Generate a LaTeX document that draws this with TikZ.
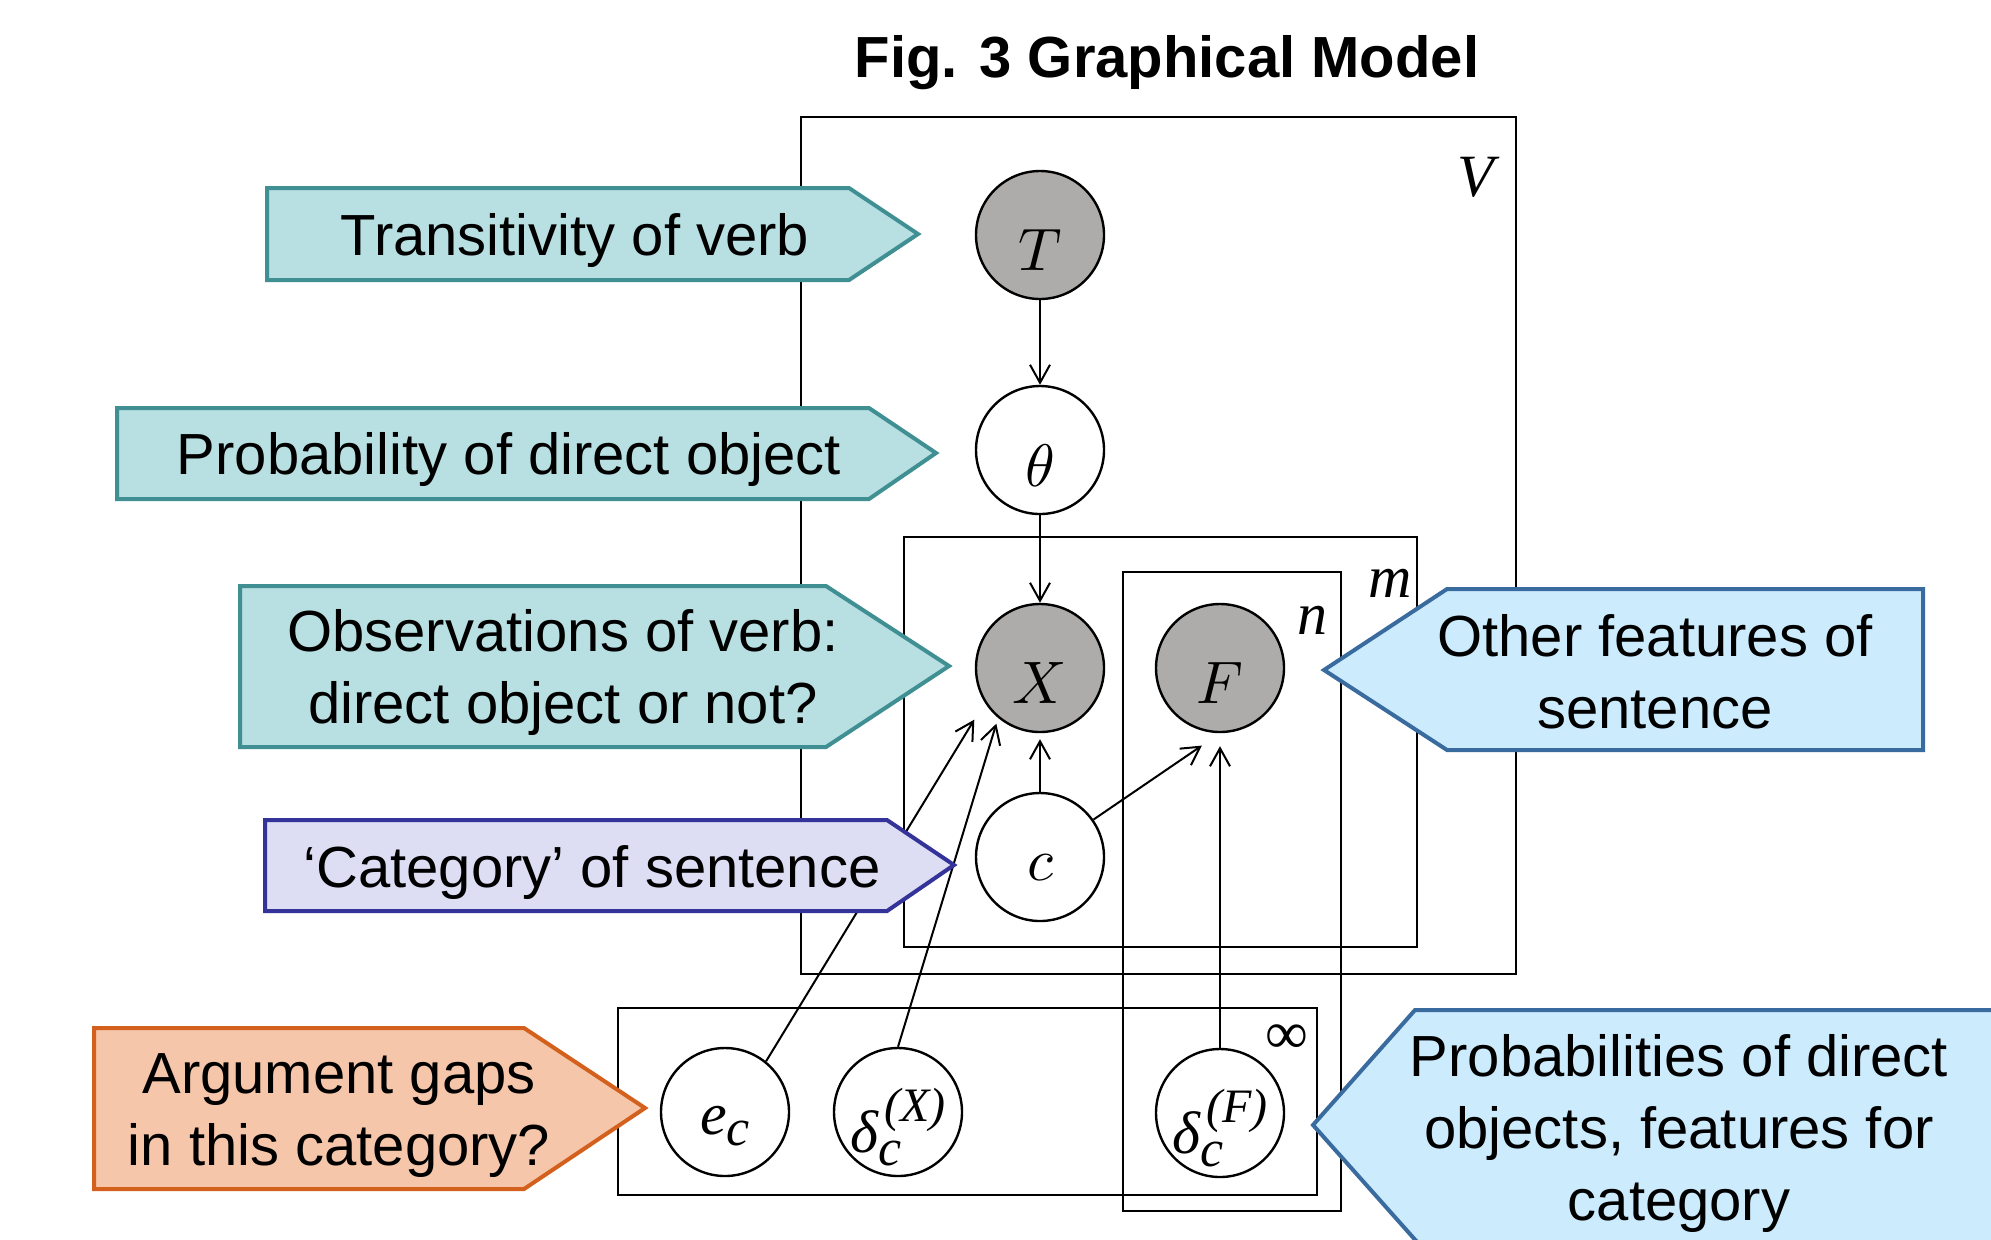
\RequirePackage{fix-cm}
\documentclass[tikz,border=0pt]{standalone}
\usepackage{fontspec}
\setmainfont{Liberation Sans}
\newfontfamily\lserif{Liberation Serif}
\usetikzlibrary{arrows.meta}
\definecolor{obsgray}{RGB}{174,172,171}
\definecolor{tealfill}{RGB}{184,223,225}
\definecolor{tealline}{RGB}{64,143,147}
\definecolor{lavfill}{RGB}{221,221,244}
\definecolor{lavline}{RGB}{51,51,153}
\definecolor{peachfill}{RGB}{245,198,170}
\definecolor{peachline}{RGB}{211,96,28}
\definecolor{skyfill}{RGB}{204,235,252}
\definecolor{skyline}{RGB}{58,107,158}
\newcommand{\mv}[1]{{\lserif\itshape #1}}
\newcommand{\cmv}[1]{\scalebox{3}{\fontsize{10}{12}\selectfont$#1$}}
\newcommand{\subsz}{\fontsize{26}{26}\selectfont}
\newcommand{\supsz}{\fontsize{24}{24}\selectfont}

\begin{document}
\begin{tikzpicture}[x=0.5pt,y=-0.5pt,
  var/.style={circle,draw,line width=1.2pt,minimum size=64pt,inner sep=0pt,fill=white},
  obs/.style={var,fill=obsgray},
  sym/.style={font=\fontsize{30}{34}\selectfont,inner sep=0pt},
  letter/.style={sym,anchor=base},
  plate/.style={draw,line width=1.2pt},
  edge/.style={line width=1pt,-{Straight Barb[length=9pt,width=10pt]}},
  callout/.style={line width=2pt,line join=miter},
  note/.style={font=\fontsize{29}{36}\selectfont,align=center,inner sep=0pt},
]
\useasboundingbox (0,0) rectangle (1991,1239);
\fill[white] (0,0) rectangle (1991,1239);

% title
\node[note,font=\fontsize{29}{36}\selectfont\bfseries] (title) at (1167,63) {Fig. 3 Graphical Model};

% plates
\draw[plate] (801,117) rectangle (1516,974);
\draw[plate] (904,537) rectangle (1417,947);
\draw[plate] (1123,572) rectangle (1341,1211);
\draw[plate] (618,1008) rectangle (1317,1195);
\node[sym] (Vlab) at (1476,177) {\mv{V}};
\node[sym] (mlab) at (1390,583) {\mv{m}};
\node[sym] (nlab) at (1312,620) {\mv{n}};
\node[sym] (inflab) at (1287,1039) {{\lserif ∞}};

% variables
\node[obs] (T)  at (1040,235) {};
\node[var] (th) at (1040,450) {};
\node[obs] (X)  at (1040,668) {};
\node[obs] (F)  at (1220,668) {};
\node[var] (c)  at (1040,857) {};
\node[var] (ec) at (725,1112) {};
\node[var] (dX) at (898,1112) {};
\node[var] (dF) at (1220,1113) {};

\node[letter] (Tt)  at ([yshift=-17.5pt]T.center)  {\cmv{T}};
\node[letter] (tht) at ([yshift=-18pt]th.center)   {\cmv{\theta}};
\node[letter] (Xt)  at ([yshift=-17.5pt]X.center)  {\cmv{X}};
\node[letter] (Ft)  at ([yshift=-17.5pt]F.center)  {\cmv{F}};
\node[letter] (ct)  at ([yshift=-11.5pt]c.center)  {\cmv{c}};
\node[letter] (ect) at ([yshift=-11pt]ec.center)
  {\mv{e}\raisebox{-5.5pt}{\subsz\mv{c}}};
\node[letter] (dXt) at ([yshift=-20pt]dX.center)
  {\mv{δ}\rlap{\raisebox{-6.5pt}{\subsz\mv{c}}}\hspace{3pt}\raisebox{15.5pt}{\supsz\mv{(X)}}};
\node[letter] (dFt) at ([yshift=-20pt]dF.center)
  {\mv{δ}\rlap{\raisebox{-6.5pt}{\subsz\mv{c}}}\hspace{3pt}\raisebox{15.5pt}{\supsz\mv{(F)}}};

% dependencies
\draw[edge] (T) -- (th);
\draw[edge] (th) -- (X);
\draw[edge,shorten >=3pt] (c) -- (X);
\draw[edge,shorten >=11pt] (c.35) -- (F.south);
\draw[edge,shorten >=6.5pt] (dF) -- (F);
\draw[edge,shorten >=10pt] (ec.51) -- (X.212);
\draw[edge,shorten >=3pt] (dX.north) -- (X.230);

% explanatory callouts
\draw[callout,fill=tealfill,draw=tealline]
  (267,188) -- (849,188) -- (918,234) -- (849,280) -- (267,280) -- cycle;
\node[note] (n1) at (575,240) {Transitivity of verb};

\draw[callout,fill=tealfill,draw=tealline]
  (117,408) -- (869,408) -- (936,453) -- (869,499) -- (117,499) -- cycle;
\node[note] (n2) at (509,459) {Probability of direct object};

\draw[callout,fill=tealfill,draw=tealline]
  (240,586) -- (826,586) -- (949,666) -- (826,747) -- (240,747) -- cycle;
\node[note] (n3) at (563,672) {Observations of verb:\\direct object or not?};

\draw[callout,fill=lavfill,draw=lavline]
  (265,820) -- (887,820) -- (954,865) -- (887,911) -- (265,911) -- cycle;
\node[note] (n4) at (592,873) {‘Category’ of sentence};

\draw[callout,fill=peachfill,draw=peachline]
  (94,1028) -- (524,1028) -- (645,1108) -- (524,1189) -- (94,1189) -- cycle;
\node[note] (n5) at (339,1116) {Argument gaps\\in this category?};

\draw[callout,fill=skyfill,draw=skyline]
  (1923,589) -- (1447,589) -- (1324,670) -- (1447,750) -- (1923,750) -- cycle;
\node[note] (n6) at (1655,672) {Other features of\\sentence};

\begin{scope}
\clip (0,0) rectangle (1991,1239);
\draw[callout,fill=skyfill,draw=skyline]
  (2030,1010) -- (1415,1010) -- (1313,1125) -- (1442,1270) -- (2030,1270) -- cycle;
\end{scope}
\node[note] (n7) at (1679,1133) {Probabilities of direct\\objects, features for\\category};
\end{tikzpicture}
\end{document}
